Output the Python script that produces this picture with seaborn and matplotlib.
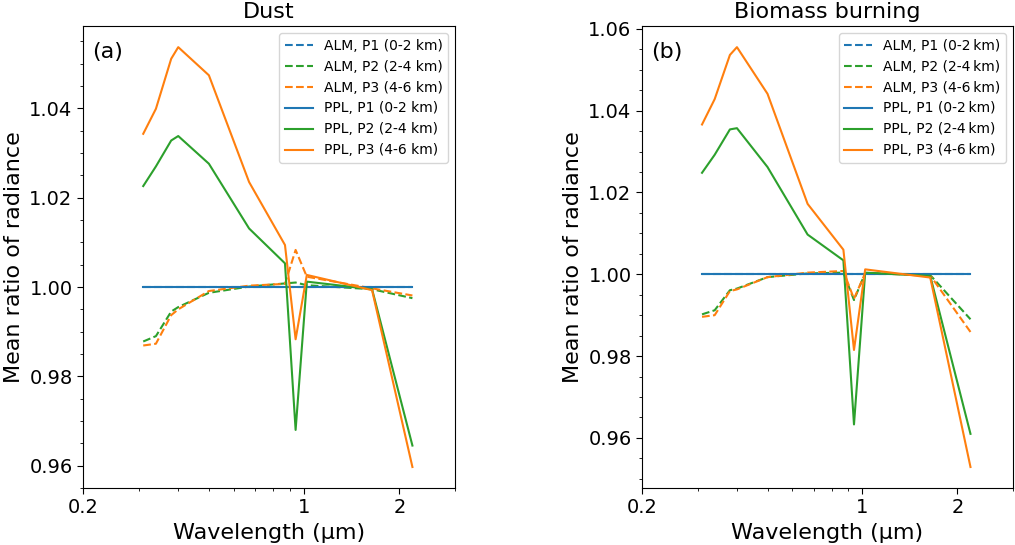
import numpy as np
import pandas as pd
import matplotlib
matplotlib.use("Agg")
import matplotlib.pyplot as plt
import seaborn as sns
from matplotlib.ticker import FixedLocator, FixedFormatter, MultipleLocator, NullFormatter

wavelengths = [0.31, 0.34, 0.38, 0.40, 0.50, 0.67, 0.87, 0.94, 1.02, 1.64, 2.2]

dust_alm_p1 = [1.0] * 11
dust_alm_p2 = [0.9878, 0.9890, 0.9945, 0.9955, 0.9987, 1.0001, 1.0008, 1.0010, 1.0004, 0.9995, 0.9975]
dust_alm_p3 = [0.9869, 0.9873, 0.9937, 0.9950, 0.9991, 1.0003, 1.0007, 1.0083, 1.0023, 0.9997, 0.9981]
dust_ppl_p1 = [1.0] * 11
dust_ppl_p2 = [1.0226, 1.0270, 1.0328, 1.0338, 1.0276, 1.0131, 1.0053, 0.9680, 1.0012, 0.9995, 0.9645]
dust_ppl_p3 = [1.0343, 1.0399, 1.0511, 1.0537, 1.0474, 1.0235, 1.0094, 0.9883, 1.0027, 0.9993, 0.9597]

bb_alm_p1 = [1.0] * 11
bb_alm_p2 = [0.9902, 0.9912, 0.9961, 0.9965, 0.9993, 1.0002, 1.0004, 0.9937, 1.0003, 0.9998, 0.9890]
bb_alm_p3 = [0.9896, 0.9900, 0.9959, 0.9963, 0.9993, 1.0004, 1.0008, 0.9940, 1.0003, 0.9997, 0.9859]
bb_ppl_p1 = [1.0] * 11
bb_ppl_p2 = [1.0248, 1.0292, 1.0354, 1.0357, 1.0262, 1.0097, 1.0034, 0.9633, 1.0004, 0.9996, 0.9610]
bb_ppl_p3 = [1.0366, 1.0428, 1.0536, 1.0555, 1.0441, 1.0172, 1.0060, 0.9815, 1.0012, 0.9992, 0.9529]

titles = ["Dust", "Biomass burning"]
panel_tags = ["(a)", "(b)"]
x_ticks = [0.2, 1, 2]
x_tick_labels = ["0.2", "1", "2"]

colors = ["tab:blue", "tab:green", "tab:orange"]

fig = plt.figure(figsize=(10.15, 5.45), dpi=100)
ax1 = fig.add_axes([0.0818, 0.1046, 0.3665, 0.8474])
ax2 = fig.add_axes([0.6325, 0.1046, 0.3655, 0.8474])

panels = [
    (ax1, [dust_alm_p1, dust_alm_p2, dust_alm_p3], [dust_ppl_p1, dust_ppl_p2, dust_ppl_p3], " "),
    (ax2, [bb_alm_p1, bb_alm_p2, bb_alm_p3], [bb_ppl_p1, bb_ppl_p2, bb_ppl_p3], "\u2009"),
]

for i, (ax, alms, ppls, sp) in enumerate(panels):
    ranges = ["0-2", "2-4", "4-6"]
    for k, vals in enumerate(alms):
        sns.lineplot(x=wavelengths, y=vals, ax=ax, color=colors[k], linestyle="--",
                     linewidth=1.5, label=f"ALM, P{k+1} ({ranges[k]}{sp}km)", sort=False)
    for k, vals in enumerate(ppls):
        sns.lineplot(x=wavelengths, y=vals, ax=ax, color=colors[k], linestyle="-",
                     linewidth=1.5, label=f"PPL, P{k+1} ({ranges[k]}{sp}km)", sort=False)
    ax.set_xscale("log")
    ax.set_xlim(0.2, 3)
    ax.xaxis.set_major_locator(FixedLocator(x_ticks))
    ax.xaxis.set_major_formatter(FixedFormatter(x_tick_labels))
    ax.xaxis.set_minor_locator(FixedLocator([0.3, 0.4, 0.5, 0.6, 0.7, 0.8, 0.9, 3]))
    ax.xaxis.set_minor_formatter(NullFormatter())
    ax.yaxis.set_major_locator(MultipleLocator(0.02))
    ax.yaxis.set_minor_locator(MultipleLocator(0.005))
    ax.tick_params(axis="both", which="major", labelsize=14, length=4)
    ax.tick_params(axis="both", which="minor", length=2)
    ax.set_title(titles[i], fontsize=16)
    ax.set_xlabel("Wavelength (µm)", fontsize=16)
    ax.set_ylabel("Mean ratio of radiance", fontsize=16)
    ax.text(0.025, 0.965, panel_tags[i], transform=ax.transAxes, fontsize=16, va="top", ha="left")
    ax.legend(loc="upper right", fontsize=10, handlelength=2.0)

fig.savefig("out.png", dpi=100)
